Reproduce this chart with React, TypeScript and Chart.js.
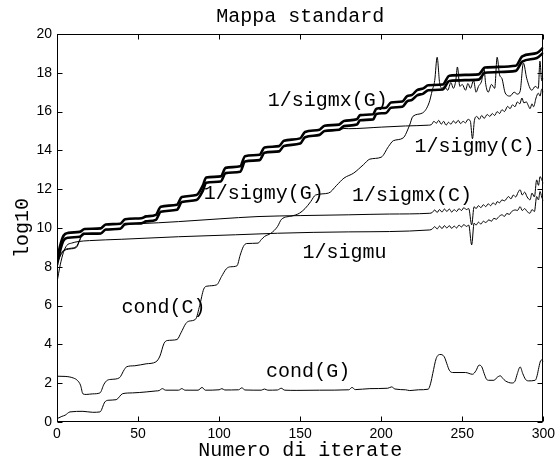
import { useEffect, useRef } from "react";
import { Chart, registerables } from "chart.js";

Chart.register(...registerables);

const TITLE = "Mappa standard";
const X_LABEL = "Numero di iterate";
const Y_LABEL = "log10";
const X_TICKS = [0, 50, 100, 150, 200, 250, 300];
const Y_TICKS = [0, 2, 4, 6, 8, 10, 12, 14, 16, 18, 20];

// Thick staircase pair (G)
const gX = [0, 2, 4, 7, 14, 17, 27, 30, 39, 42, 52, 55, 61, 64, 74, 77, 86, 90, 92, 101, 104, 113, 116, 125, 128, 137, 140, 150, 153, 162, 165, 174, 177, 185, 187, 195, 197, 203, 206, 213, 216, 219, 222, 226, 229, 238, 242, 260, 264, 283, 287, 296, 300];
const sigmxG = [8.35, 9.1, 9.6, 9.75, 9.8, 9.95, 9.98, 10.18, 10.22, 10.45, 10.5, 10.6, 10.68, 11.1, 11.2, 11.6, 11.7, 12.2, 12.6, 12.66, 13.1, 13.18, 13.7, 13.78, 14.15, 14.22, 14.5, 14.62, 14.95, 15.07, 15.27, 15.33, 15.52, 15.6, 15.82, 15.86, 16.15, 16.2, 16.47, 16.52, 16.8, 16.86, 17.1, 17.2, 17.36, 17.4, 17.85, 17.92, 18.27, 18.36, 18.85, 19.02, 19.3];
const sigmyG = [8.1, 8.85, 9.35, 9.5, 9.55, 9.7, 9.72, 9.92, 9.96, 10.2, 10.24, 10.34, 10.42, 10.84, 10.94, 11.34, 11.44, 11.93, 12.33, 12.4, 12.83, 12.9, 13.43, 13.5, 13.88, 13.95, 14.23, 14.35, 14.68, 14.8, 15.0, 15.06, 15.25, 15.33, 15.55, 15.6, 15.88, 15.93, 16.2, 16.25, 16.53, 16.6, 16.83, 16.93, 17.1, 17.14, 17.58, 17.65, 18.0, 18.1, 18.58, 18.76, 19.04];

// 1/sigmy(C)
const sigmyCX = [0, 2, 4, 8, 12, 14, 16, 18, 27, 30, 39, 42, 52, 55, 61, 64, 74, 77, 86, 90, 92, 101, 104, 113, 116, 125, 128, 137, 140, 150, 153, 162, 165, 174, 177, 180, 200, 215, 229, 231, 232.5, 234, 235.5, 237, 238.5, 240, 241.5, 243, 244.5, 246, 247.5, 249, 250.5, 252, 253.5, 255, 256.3, 257.5, 259, 260.5, 262, 263.5, 265.4, 267, 268.5, 270, 271.5, 273, 274.5, 276, 278, 279.5, 281, 282.5, 284, 285.5, 286.8, 288, 289.5, 290.8, 291.8, 293, 294, 295.5, 296.9, 298, 299, 300];
const sigmyCY = [8.2, 8.6, 8.85, 8.95, 9.05, 9.4, 9.75, 9.7, 9.72, 9.92, 9.96, 10.2, 10.24, 10.34, 10.42, 10.84, 10.94, 11.34, 11.44, 11.93, 12.33, 12.4, 12.83, 12.9, 13.43, 13.5, 13.88, 13.95, 14.23, 14.35, 14.68, 14.8, 15.0, 15.06, 15.13, 15.12, 15.2, 15.26, 15.3, 15.33, 15.5, 15.4, 15.55, 15.35, 15.5, 15.3, 15.45, 15.35, 15.52, 15.4, 15.55, 15.38, 15.5, 15.42, 15.6, 15.5, 14.6, 15.55, 15.75, 15.6, 15.8, 15.65, 15.85, 15.75, 15.9, 15.8, 16.0, 15.9, 16.1, 16.0, 16.27, 16.15, 16.35, 16.25, 16.5, 16.4, 16.7, 16.45, 16.5, 16.3, 16.15, 16.4, 16.25, 16.7, 16.95, 16.8, 17.15, 17.0];

// 1/sigmx(C)
const sigmxCX = [0, 2, 4, 8, 12, 14, 16, 18, 27, 30, 39, 42, 50, 75, 100, 124, 150, 180, 205, 230, 231.5, 233, 234.5, 236, 237.5, 239, 240.5, 242, 243.5, 245, 246.5, 248, 249.5, 251, 252.5, 254, 255.8, 257.3, 258.5, 260, 261.5, 263, 264.5, 266, 267.5, 269, 270.5, 271.5, 273, 274.5, 276, 278.6, 280, 281.5, 283, 284.5, 285.7, 287, 288.5, 290, 291.8, 293, 294.5, 295.9, 297, 298, 299, 300];
const sigmxCY = [8.15, 8.55, 8.8, 8.92, 9.0, 9.35, 9.7, 9.68, 9.7, 9.9, 9.94, 10.16, 10.22, 10.33, 10.47, 10.59, 10.64, 10.68, 10.72, 10.76, 10.8, 10.93, 10.8, 10.95, 10.82, 10.98, 10.85, 10.98, 10.82, 10.95, 10.85, 11.0, 10.9, 11.05, 10.95, 11.0, 10.16, 11.1, 11.0, 11.15, 11.05, 11.2, 11.1, 11.25, 11.15, 11.3, 11.2, 11.36, 11.3, 11.45, 11.4, 11.62, 11.5, 11.7, 11.6, 11.85, 11.97, 11.7, 11.85, 11.6, 11.45, 11.8, 11.6, 12.48, 12.2, 12.65, 12.5, 12.3];

// 1/sigmu
const sigmuX = [0, 2, 4, 6, 9, 13, 20, 40, 75, 110, 136, 180, 230, 231.5, 233, 234.5, 236, 237.5, 239, 240.5, 242, 243.5, 245, 246.5, 248, 249.5, 251, 252.5, 254, 255.8, 257.3, 258.5, 260, 261.5, 263, 264.5, 266.4, 268, 269.5, 271, 272.5, 274.5, 276, 277.5, 279, 280.5, 282.7, 284, 285.7, 287, 288.5, 290, 291.8, 293, 294.5, 295.9, 297, 298, 299, 300];
const sigmuY = [7.2, 8.1, 8.75, 9.1, 9.22, 9.3, 9.35, 9.42, 9.55, 9.65, 9.73, 9.8, 9.9, 9.95, 10.07, 9.95, 10.1, 9.97, 10.12, 10.0, 10.12, 9.98, 10.1, 10.0, 10.15, 10.05, 10.18, 10.08, 10.15, 9.13, 10.25, 10.15, 10.3, 10.2, 10.35, 10.28, 10.42, 10.35, 10.5, 10.45, 10.58, 10.68, 10.6, 10.75, 10.7, 10.85, 10.93, 10.9, 11.1, 10.9, 11.0, 10.85, 10.76, 10.95, 10.85, 11.62, 11.45, 11.88, 11.6, 11.4];

// cond(C)
const condCX = [0, 5, 10, 12.5, 14.5, 16, 18, 22, 26.5, 29, 31, 34, 38.5, 41.5, 43, 48, 55, 61, 63.5, 66, 68, 74, 76.5, 79.5, 81.5, 85.5, 88, 90.5, 92.5, 98.5, 101.5, 104.5, 107, 111, 113, 115, 117, 124, 126, 128, 132, 136, 138.5, 145, 149.5, 153, 156.5, 159.5, 167.5, 172.5, 177, 183, 189, 193, 200, 204.5, 207.5, 213.5, 217.5, 219.5, 225.5, 229.5, 231.5, 233, 234.5, 236, 237.5, 239, 241, 243, 244.5, 246, 247, 248.5, 250, 252, 253.5, 255, 257, 258.5, 260, 262, 263.3, 264.5, 266, 268, 270, 271.5, 273, 274.5, 276.5, 279.5, 282, 284, 285.7, 287.7, 289.8, 292.9, 295, 296.9, 297.9, 299, 300];
const condCY = [2.36, 2.35, 2.27, 2.15, 1.9, 1.45, 1.42, 1.45, 1.5, 1.95, 2.15, 2.2, 2.28, 2.7, 2.85, 2.9, 3.0, 3.1, 3.4, 4.05, 4.2, 4.25, 4.6, 5.08, 5.2, 5.3, 6.0, 6.85, 7.0, 7.07, 7.5, 7.9, 8.0, 8.05, 8.6, 9.05, 9.2, 9.22, 9.4, 9.56, 9.73, 10.07, 10.45, 10.62, 10.76, 11.0, 11.36, 11.7, 11.8, 12.2, 12.57, 12.83, 13.26, 13.55, 13.65, 14.2, 14.5, 14.64, 15.3, 15.75, 15.93, 16.45, 17.1, 17.6, 18.8, 17.5, 17.2, 17.3, 17.1, 17.5, 17.2, 17.6, 18.3, 17.3, 17.4, 17.1, 17.45, 17.2, 17.6, 17.0, 17.3, 17.6, 18.25, 17.4, 17.0, 17.4, 17.2, 18.8, 17.9, 17.7, 16.96, 16.8, 17.0, 16.9, 17.05, 18.5, 17.7, 17.1, 17.3, 17.2, 18.6, 17.6, 17.7];

// cond(G)
const condGX = [0, 3, 5, 8, 16, 22, 26.5, 29.5, 31.5, 36.5, 40.5, 46.5, 55, 61, 63, 65, 67, 75, 77, 79, 87, 89.5, 91.5, 100, 101.7, 103.5, 112, 114, 116, 126, 128, 130, 136, 138.3, 140.5, 148, 162, 180, 182, 184, 193, 204, 206.4, 208.5, 215, 217.6, 223, 229, 230.5, 231.8, 233.9, 236.3, 238.9, 240.5, 242, 244, 252, 256.3, 258.5, 260.3, 262, 263.5, 265, 266.4, 269.5, 271.5, 273.5, 275, 276.6, 280.6, 282.5, 284, 285.7, 287.3, 289, 290.8, 295, 296.2, 297.2, 298.3, 299.2, 300];
const condGY = [0.17, 0.29, 0.35, 0.52, 0.55, 0.5, 0.52, 1.03, 1.12, 1.15, 1.46, 1.5, 1.55, 1.6, 1.62, 1.72, 1.64, 1.64, 1.72, 1.64, 1.64, 1.78, 1.64, 1.66, 1.72, 1.65, 1.66, 1.76, 1.65, 1.64, 1.7, 1.64, 1.65, 1.74, 1.64, 1.63, 1.64, 1.66, 1.78, 1.67, 1.72, 1.74, 1.81, 1.7, 1.66, 1.62, 1.66, 1.69, 2.0, 2.5, 3.27, 3.48, 3.36, 3.0, 2.67, 2.55, 2.55, 2.46, 2.65, 2.93, 2.85, 2.5, 2.2, 2.15, 2.15, 2.3, 2.38, 2.25, 2.12, 2.01, 2.1, 2.5, 2.84, 2.5, 2.2, 2.12, 2.15, 2.4, 2.8, 3.15, 3.2, 3.1];

// Annotations: [text, x (data), y baseline (data)]
const LABELS: [string, number, number][] = [
  ["1/sigmx(G)", 130, 16.3],
  ["1/sigmy(C)", 220.5, 13.93],
  ["1/sigmy(G)", 90.5, 11.5],
  ["1/sigmx(C)", 182, 11.4],
  ["1/sigmu", 151.5, 8.46],
  ["cond(C)", 39.8, 5.61],
  ["cond(G)", 129, 2.31],
];

const pts = (xs: number[], ys: number[]) => xs.map((x, i) => ({ x, y: ys[i] }));

const MONO = '"Liberation Mono", "Courier New", monospace';

const framePlugin = {
  id: "matlabFrame",
  afterDraw(chart: any) {
    const { ctx, chartArea: a, scales } = chart;
    const xs = scales.x;
    const ys = scales.y;
    ctx.save();
    ctx.strokeStyle = "#000";
    ctx.lineWidth = 1;
    const L = Math.round(a.left) + 0.5;
    const R = Math.round(a.right) - 0.5;
    const T = Math.round(a.top) + 0.5;
    const B = Math.round(a.bottom) - 0.5;
    ctx.strokeRect(L, T, R - L, B - T);
    const tl = 5;
    ctx.beginPath();
    for (const v of X_TICKS) {
      const px = Math.round(xs.getPixelForValue(v)) + 0.5;
      ctx.moveTo(px, B); ctx.lineTo(px, B - tl);
      ctx.moveTo(px, T); ctx.lineTo(px, T + tl);
    }
    for (const v of Y_TICKS) {
      const py = Math.round(ys.getPixelForValue(v)) + 0.5;
      ctx.moveTo(L, py); ctx.lineTo(L + tl, py);
      ctx.moveTo(R, py); ctx.lineTo(R - tl, py);
    }
    ctx.stroke();

    ctx.fillStyle = "#000";
    ctx.font = `20px ${MONO}`;
    ctx.textBaseline = "alphabetic";
    ctx.textAlign = "left";
    for (const [t, x, y] of LABELS) {
      ctx.fillText(t, xs.getPixelForValue(x), ys.getPixelForValue(y));
    }
    const cx = (a.left + a.right) / 2;
    ctx.textAlign = "center";
    ctx.fillText(TITLE, cx, 22);
    ctx.fillText(X_LABEL, cx, 456);
    ctx.save();
    ctx.translate(28, (a.top + a.bottom) / 2);
    ctx.rotate(-Math.PI / 2);
    ctx.fillText(Y_LABEL, 0, 0);
    ctx.restore();
    ctx.restore();
  },
};

export default function App() {
  const ref = useRef<HTMLCanvasElement>(null);
  useEffect(() => {
    document.body.style.margin = "0";
    const thin = (data: any) => ({
      data,
      borderColor: "#000",
      borderWidth: 1,
      pointRadius: 0,
      cubicInterpolationMode: "monotone" as const,
    });
    const thick = (data: any) => ({
      data,
      borderColor: "#000",
      borderWidth: 2.6,
      pointRadius: 0,
      cubicInterpolationMode: "monotone" as const,
    });
    const chart = new Chart(ref.current!, {
      type: "line",
      data: {
        datasets: [
          thick(pts(gX, sigmxG)),
          thick(pts(gX, sigmyG)),
          thin(pts(sigmyCX, sigmyCY)),
          thin(pts(sigmxCX, sigmxCY)),
          thin(pts(sigmuX, sigmuY)),
          thin(pts(condCX, condCY)),
          thin(pts(condGX, condGY)),
        ],
      },
      options: {
        responsive: false,
        animation: false,
        devicePixelRatio: 1,
        layout: { padding: { top: 34, right: 11, bottom: 0, left: 0 } },
        plugins: { legend: { display: false }, tooltip: { enabled: false }, title: { display: false } },
        scales: {
          x: {
            type: "linear",
            min: 0,
            max: 300,
            grid: { display: false, drawTicks: false },
            border: { display: false },
            afterBuildTicks: (s: any) => { s.ticks = X_TICKS.map((v) => ({ value: v })); },
            afterFit: (s: any) => { s.height = 39; },
            ticks: { padding: 4, color: "#000", font: { family: '"Liberation Sans", Arial, sans-serif', size: 14 }, maxRotation: 0 },
          },
          y: {
            type: "linear",
            min: 0,
            max: 20,
            grid: { display: false, drawTicks: false },
            border: { display: false },
            afterBuildTicks: (s: any) => { s.ticks = Y_TICKS.map((v) => ({ value: v })); },
            afterFit: (s: any) => { s.width = 57; },
            ticks: { padding: 5, color: "#000", font: { family: '"Liberation Sans", Arial, sans-serif', size: 14 } },
          },
        },
      },
      plugins: [framePlugin],
    });
    return () => chart.destroy();
  }, []);
  return <canvas ref={ref} width={559} height={461} style={{ display: "block" }} />;
}
